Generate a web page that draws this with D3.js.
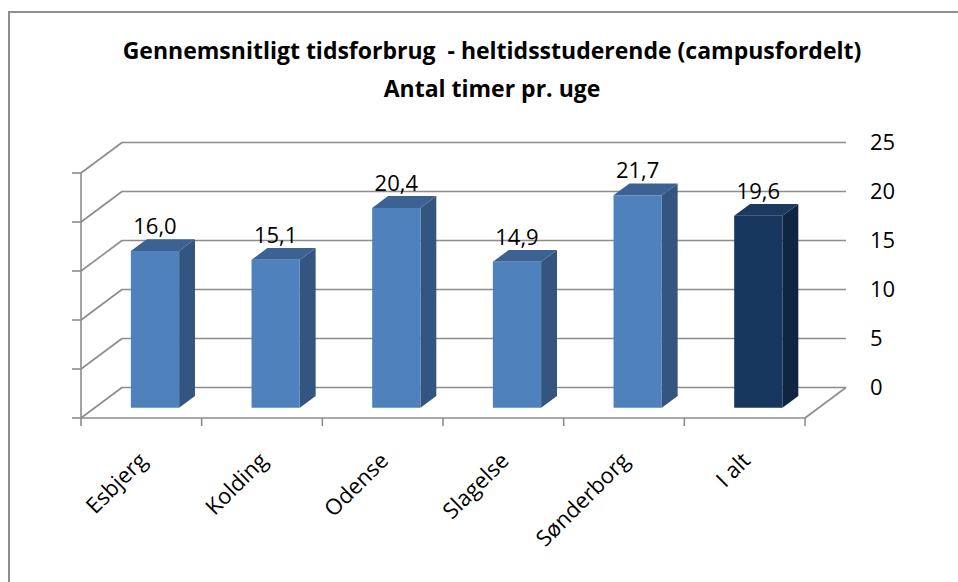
<!DOCTYPE html>
<html>
<head>
<meta charset="utf-8">
<script src="https://cdn.jsdelivr.net/npm/d3@7"></script>
<style>
  body { margin: 0; background: #fff; }
  svg text { font-family: "Open Sans", sans-serif; fill: #000; }
</style>
</head>
<body>
<div class="chart"></div>
<script>
var categories = ["Esbjerg", "Kolding", "Odense", "Slagelse", "Sønderborg", "I alt"];
var values = [16.0, 15.1, 20.4, 14.9, 21.7, 19.6];
var yTicks = [0, 5, 10, 15, 20, 25];
var titleLines = ["Gennemsnitligt tidsforbrug  - heltidsstuderende (campusfordelt)", "Antal timer pr. uge"];

var width = 958, height = 582;
var depthX = 41, depthY = 30.5;      // offset of the back wall
var barFront = 0.333, barBack = 0.72; // bar position in the depth
var gridColor = "#8c8c8c";

var format = function(v) { return d3.format(".1f")(v).replace(".", ","); };

var svg = d3.select(".chart")
    .append("svg")
    .attr("width", width)
    .attr("height", height);

// chart border (only top and left are inside the picture)
svg.append("path")
    .attr("d", "M9," + height + " V12 H" + width)
    .attr("fill", "none")
    .attr("stroke", "#8e8e8e")
    .attr("stroke-width", 2);

var x = d3.scaleBand()
    .domain(categories)
    .range([81, 805]);

var y = d3.scaleLinear()
    .domain([0, 25])
    .range([418, 173]);

// project a front x, a value and a depth (0 = front, 1 = back wall)
function pt(px, v, d) { return [px + d * depthX, y(v) - d * depthY]; }
function line(a, b) {
  svg.append("line")
      .attr("x1", a[0]).attr("y1", a[1])
      .attr("x2", b[0]).attr("y2", b[1])
      .attr("stroke", gridColor)
      .attr("stroke-width", 1.6);
}

var x0 = x.range()[0], x1 = x.range()[1];

// back wall and left wall gridlines
yTicks.forEach(function(t) {
  line(pt(x0, t, 1), pt(x1, t, 1));
  line(pt(x0, t, 0), pt(x0, t, 1));
  line([x0 - 9, y(t)], [x0, y(t)]);
});
line([x0, y(0)], [x0, y(25)]);

// floor
line(pt(x0, 0, 0), pt(x1, 0, 0));
line(pt(x1, 0, 0), pt(x1, 0, 1));

// category ticks between the bands
categories.concat([null]).forEach(function(c) {
  var px = c === null ? x1 : x(c);
  line([px, y(0)], [px, y(0) + 8]);
});

// right axis labels on the back wall
svg.append("g")
    .selectAll("text")
    .data(yTicks)
  .enter().append("text")
    .attr("x", 870)
    .attr("y", function(d) { return y(d) - depthY; })
    .attr("dy", "0.36em")
    .style("font-size", "22px")
    .text(function(d) { return d; });

// bars
var colors = [
  { front: "#4f81bd", side: "#34557f", top: "#3b6292" },
  { front: "#17375e", side: "#10253f", top: "#1c3a60" }
];

var bars = svg.append("g")
    .selectAll("g")
    .data(categories)
  .enter().append("g");

function poly(points) { return "M" + points.map(function(p) { return p.join(","); }).join("L") + "Z"; }

bars.each(function(c, i) {
  var g = d3.select(this);
  var v = values[i];
  var bw = x.bandwidth() * 0.4;
  var a = x(c) + x.bandwidth() * 0.3, b = a + bw;
  var col = i === categories.length - 1 ? colors[1] : colors[0];

  g.append("path")
      .attr("d", poly([pt(b, 0, barFront), pt(b, 0, barBack), pt(b, v, barBack), pt(b, v, barFront)]))
      .attr("fill", col.side);
  g.append("path")
      .attr("d", poly([pt(a, v, barFront), pt(b, v, barFront), pt(b, v, barBack), pt(a, v, barBack)]))
      .attr("fill", col.top);
  g.append("path")
      .attr("d", poly([pt(a, 0, barFront), pt(b, 0, barFront), pt(b, v, barFront), pt(a, v, barFront)]))
      .attr("fill", col.front);

  g.append("text")
      .attr("x", (a + b) / 2 + barFront * depthX)
      .attr("y", pt(a, v, barFront)[1] - 17)
      .attr("text-anchor", "middle")
      .style("font-size", "22px")
      .text(format(v));
});

// category labels
svg.append("g")
    .selectAll("text")
    .data(categories)
  .enter().append("text")
    .attr("text-anchor", "end")
    .attr("transform", function(d) {
      return "translate(" + (x(d) + x.bandwidth() / 2 + 7) + ",462) rotate(-45)";
    })
    .style("font-size", "22px")
    .text(function(d) { return d; });

// title
svg.append("g")
    .selectAll("text")
    .data(titleLines)
  .enter().append("text")
    .attr("x", 492)
    .attr("y", function(d, i) { return 59 + i * 38; })
    .attr("text-anchor", "middle")
    .style("font-size", "23px")
    .style("font-weight", "bold")
    .style("white-space", "pre")
    .text(function(d) { return d; });
</script>
</body>
</html>
